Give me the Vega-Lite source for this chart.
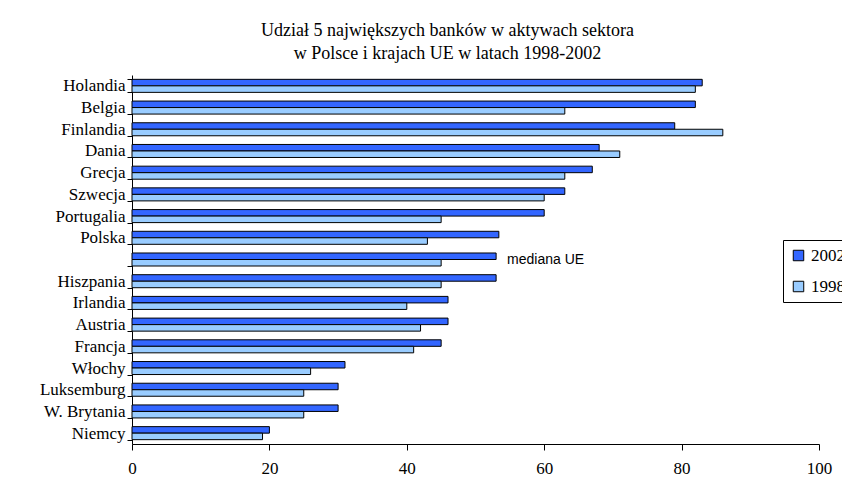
{
  "$schema": "https://vega.github.io/schema/vega-lite/v6.json",
  "width": 687,
  "height": 369,
  "autosize": {"type": "none"},
  "padding": {"left": 132, "top": 75, "right": 23, "bottom": 38},
  "background": "white",
  "title": {
    "text": ["Udział 5 największych banków w aktywach sektora", "w Polsce i krajach UE w latach 1998-2002"],
    "font": "Liberation Serif",
    "fontSize": 18,
    "fontWeight": "normal",
    "color": "black",
    "anchor": "middle",
    "dx": -28,
    "lineHeight": 23,
    "offset": 3
  },
  "data": {
    "values": [
      {"kraj": "Holandia", "rok": "2002", "udzial": 83},
      {"kraj": "Holandia", "rok": "1998", "udzial": 82},
      {"kraj": "Belgia", "rok": "2002", "udzial": 82},
      {"kraj": "Belgia", "rok": "1998", "udzial": 63},
      {"kraj": "Finlandia", "rok": "2002", "udzial": 79},
      {"kraj": "Finlandia", "rok": "1998", "udzial": 86},
      {"kraj": "Dania", "rok": "2002", "udzial": 68},
      {"kraj": "Dania", "rok": "1998", "udzial": 71},
      {"kraj": "Grecja", "rok": "2002", "udzial": 67},
      {"kraj": "Grecja", "rok": "1998", "udzial": 63},
      {"kraj": "Szwecja", "rok": "2002", "udzial": 63},
      {"kraj": "Szwecja", "rok": "1998", "udzial": 60},
      {"kraj": "Portugalia", "rok": "2002", "udzial": 60},
      {"kraj": "Portugalia", "rok": "1998", "udzial": 45},
      {"kraj": "Polska", "rok": "2002", "udzial": 53.4},
      {"kraj": "Polska", "rok": "1998", "udzial": 43},
      {"kraj": "mediana UE", "rok": "2002", "udzial": 53},
      {"kraj": "mediana UE", "rok": "1998", "udzial": 45},
      {"kraj": "Hiszpania", "rok": "2002", "udzial": 53},
      {"kraj": "Hiszpania", "rok": "1998", "udzial": 45},
      {"kraj": "Irlandia", "rok": "2002", "udzial": 46},
      {"kraj": "Irlandia", "rok": "1998", "udzial": 40},
      {"kraj": "Austria", "rok": "2002", "udzial": 46},
      {"kraj": "Austria", "rok": "1998", "udzial": 42},
      {"kraj": "Francja", "rok": "2002", "udzial": 45},
      {"kraj": "Francja", "rok": "1998", "udzial": 41},
      {"kraj": "Włochy", "rok": "2002", "udzial": 31},
      {"kraj": "Włochy", "rok": "1998", "udzial": 26},
      {"kraj": "Luksemburg", "rok": "2002", "udzial": 30},
      {"kraj": "Luksemburg", "rok": "1998", "udzial": 25},
      {"kraj": "W. Brytania", "rok": "2002", "udzial": 30},
      {"kraj": "W. Brytania", "rok": "1998", "udzial": 25},
      {"kraj": "Niemcy", "rok": "2002", "udzial": 20},
      {"kraj": "Niemcy", "rok": "1998", "udzial": 19}
    ]
  },
  "encoding": {
    "y": {
      "field": "kraj",
      "type": "nominal",
      "sort": ["Holandia", "Belgia", "Finlandia", "Dania", "Grecja", "Szwecja", "Portugalia", "Polska", "mediana UE", "Hiszpania", "Irlandia", "Austria", "Francja", "Włochy", "Luksemburg", "W. Brytania", "Niemcy"],
      "scale": {"paddingInner": 0.4, "paddingOuter": 0.2},
      "axis": {
        "title": null,
        "tickBand": "extent",
        "tickSize": 5,
        "tickColor": "black",
        "domainColor": "black",
        "labelFont": "Liberation Serif",
        "labelFontSize": 17,
        "labelColor": "black",
        "labelPadding": 2,
        "labelExpr": "datum.value == 'mediana UE' ? '' : datum.value"
      }
    },
    "x": {
      "field": "udzial",
      "type": "quantitative",
      "scale": {"domain": [0, 100], "nice": false},
      "axis": {
        "title": null,
        "values": [0, 20, 40, 60, 80, 100],
        "grid": false,
        "tickSize": 6,
        "tickColor": "black",
        "domainColor": "black",
        "labelFont": "Liberation Serif",
        "labelFontSize": 17,
        "labelColor": "black",
        "labelPadding": 10,
        "labelFlush": false,
        "labelOverlap": false,
        "labelBound": false
      }
    }
  },
  "layer": [
    {
      "mark": {"type": "bar", "stroke": "black", "strokeWidth": 1},
      "encoding": {
        "yOffset": {"field": "rok", "type": "nominal", "sort": ["2002", "1998"]},
        "fill": {
          "field": "rok",
          "type": "nominal",
          "scale": {"domain": ["2002", "1998"], "range": ["#3366FF", "#99CCFF"]},
          "legend": {
            "title": null,
            "orient": "none",
            "legendX": 651,
            "legendY": 165,
            "symbolType": "square",
            "symbolSize": 110,
            "symbolStrokeColor": "black",
            "symbolStrokeWidth": 1,
            "labelFont": "Liberation Serif",
            "labelFontSize": 17,
            "labelColor": "black",
            "labelOffset": 4,
            "rowPadding": 13,
            "padding": 7,
            "strokeColor": "black",
            "fillColor": "white"
          }
        }
      }
    },
    {
      "transform": [{"filter": "datum.kraj == 'mediana UE' && datum.rok == '2002'"}],
      "mark": {"type": "text", "align": "left", "baseline": "middle", "dx": 11, "dy": 0, "font": "Liberation Sans", "fontSize": 14, "color": "black"},
      "encoding": {"text": {"value": "mediana UE"}}
    }
  ],
  "config": {"view": {"stroke": null}}
}
